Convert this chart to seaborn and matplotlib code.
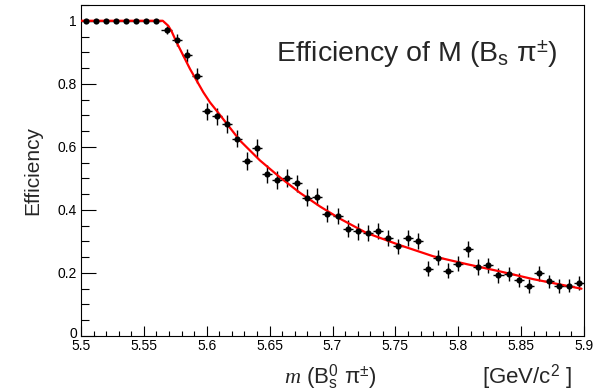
import matplotlib
matplotlib.use("Agg")
import numpy as np
import pandas as pd
import matplotlib.pyplot as plt
import seaborn as sns
from matplotlib.ticker import FixedLocator, FixedFormatter, MultipleLocator
from matplotlib.transforms import ScaledTranslation

sns.set_theme(style="white")
plt.rcParams['font.family'] = ['Liberation Sans', 'DejaVu Sans']
plt.rcParams['mathtext.fontset'] = 'custom'
plt.rcParams['mathtext.rm'] = 'Liberation Sans'
plt.rcParams['mathtext.it'] = 'Liberation Serif:italic'
plt.rcParams['mathtext.bf'] = 'Liberation Sans:bold'
plt.rcParams['mathtext.sf'] = 'Liberation Sans'

# ---- data ----
mass_bins = [5.504, 5.512, 5.520, 5.528, 5.536, 5.544, 5.552, 5.560, 5.568, 5.576,
             5.584, 5.592, 5.600, 5.608, 5.616, 5.624, 5.632, 5.640, 5.648, 5.656,
             5.664, 5.672, 5.680, 5.688, 5.696, 5.704, 5.712, 5.720, 5.728, 5.736,
             5.744, 5.752, 5.760, 5.768, 5.776, 5.784, 5.792, 5.800, 5.808, 5.816,
             5.824, 5.832, 5.840, 5.848, 5.856, 5.864, 5.872, 5.880, 5.888, 5.896]
efficiency = [1.0, 1.0, 1.0, 1.0, 1.0, 1.0, 1.0, 1.0, 0.970, 0.939,
              0.890, 0.825, 0.713, 0.697, 0.673, 0.626, 0.555, 0.597, 0.514, 0.494,
              0.501, 0.484, 0.439, 0.441, 0.388, 0.381, 0.341, 0.332, 0.327, 0.333,
              0.312, 0.284, 0.312, 0.302, 0.214, 0.249, 0.207, 0.229, 0.276, 0.219,
              0.224, 0.192, 0.196, 0.177, 0.158, 0.199, 0.173, 0.158, 0.160, 0.167]
eff_err = [0.0, 0.0, 0.0, 0.0, 0.0, 0.0, 0.0, 0.0, 0.012, 0.018,
           0.020, 0.024, 0.027, 0.027, 0.028, 0.028, 0.028, 0.028, 0.028, 0.028,
           0.028, 0.028, 0.027, 0.027, 0.026, 0.026, 0.026, 0.026, 0.026, 0.026,
           0.025, 0.025, 0.025, 0.025, 0.024, 0.024, 0.024, 0.024, 0.025, 0.024,
           0.024, 0.023, 0.023, 0.023, 0.022, 0.023, 0.022, 0.022, 0.022, 0.022]
bin_half_width = 0.004

fit_x = [5.500, 5.565, 5.5694, 5.5721, 5.5761, 5.5814, 5.5867, 5.592, 5.5973, 5.6026,
         5.6074, 5.6264, 5.6423, 5.658, 5.6742, 5.690, 5.706, 5.727, 5.7537, 5.780,
         5.8067, 5.833, 5.860, 5.898]
fit_y = [1.0, 1.0, 0.984, 0.966, 0.931, 0.889, 0.847, 0.810, 0.773, 0.741,
         0.717, 0.620, 0.557, 0.504, 0.454, 0.411, 0.372, 0.327, 0.288, 0.253,
         0.228, 0.205, 0.180, 0.150]

x_ticks = [5.5, 5.55, 5.6, 5.65, 5.7, 5.75, 5.8, 5.85, 5.9]
x_ticklabels = ["5.5", "5.55", "5.6", "5.65", "5.7", "5.75", "5.8", "5.85", "5.9"]
y_ticks = [0, 0.2, 0.4, 0.6, 0.8, 1.0]
y_ticklabels = ["0", "0.2", "0.4", "0.6", "0.8", "1"]

df = pd.DataFrame({"m": mass_bins, "eff": efficiency, "err": eff_err})
fit_df = pd.DataFrame({"m": fit_x, "eff": fit_y})

# ---- figure ----
fig = plt.figure(figsize=(6.03, 3.91), dpi=100)
fig.patch.set_facecolor("white")
ax = fig.add_axes([81/603, 55/391, 503/603, 331/391])
ax.set_facecolor("white")

ax.errorbar(df["m"], df["eff"], xerr=bin_half_width, yerr=df["err"], fmt="none",
            ecolor="black", elinewidth=1.0, capsize=0, zorder=2)
sns.lineplot(data=fit_df, x="m", y="eff", color="red", lw=1.6, sort=False,
             estimator=None, ax=ax, zorder=3)
sns.scatterplot(data=df, x="m", y="eff", color="black", s=20, marker="o",
                edgecolor="black", linewidth=0, ax=ax, zorder=4)

ax.set_xlim(5.5, 5.9)
ax.set_ylim(0, 1.05)
ax.xaxis.set_major_locator(FixedLocator(x_ticks))
ax.xaxis.set_major_formatter(FixedFormatter(x_ticklabels))
ax.xaxis.set_minor_locator(MultipleLocator(0.01))
ax.yaxis.set_major_locator(FixedLocator(y_ticks))
ax.yaxis.set_major_formatter(FixedFormatter(y_ticklabels))
ax.yaxis.set_minor_locator(MultipleLocator(0.05))

ax.tick_params(axis="both", which="both", direction="in", top=False, right=False,
               bottom=True, left=True, colors="black", labelsize=10, width=0.8)
ax.tick_params(axis="x", which="major", length=7.2, pad=2)
ax.tick_params(axis="x", which="minor", length=3.6)
ax.tick_params(axis="y", which="major", length=10.8, pad=3)
ax.tick_params(axis="y", which="minor", length=5.4)
for sp in ax.spines.values():
    sp.set_color("black")
    sp.set_linewidth(0.8)

# nudge the "0" label slightly up, as in the reference
fig.canvas.draw()
ylabels = ax.get_yticklabels()
ylabels[0].set_transform(ylabels[0].get_transform() +
                         ScaledTranslation(0, 4/100, fig.dpi_scale_trans))

ax.set_xlabel("")
ax.set_ylabel("Efficiency", fontsize=15, labelpad=11)

fig.text(558/603, 1 - 62/391, r"Efficiency of M (B$_{\mathrm{s}}$ π$^{\pm}$)",
         fontsize=20.5, ha="right", va="baseline")
fig.text(330/603, 1 - 384/391, r"$m$ (B$^{0}_{\mathrm{s}}$ π$^{\pm}$)",
         fontsize=16, ha="center", va="baseline")
fig.text(572/603, 1 - 384/391, r"[GeV/c$^{2}$ ]",
         fontsize=16, ha="right", va="baseline")

fig.savefig("out.png", dpi=100, facecolor="white")
